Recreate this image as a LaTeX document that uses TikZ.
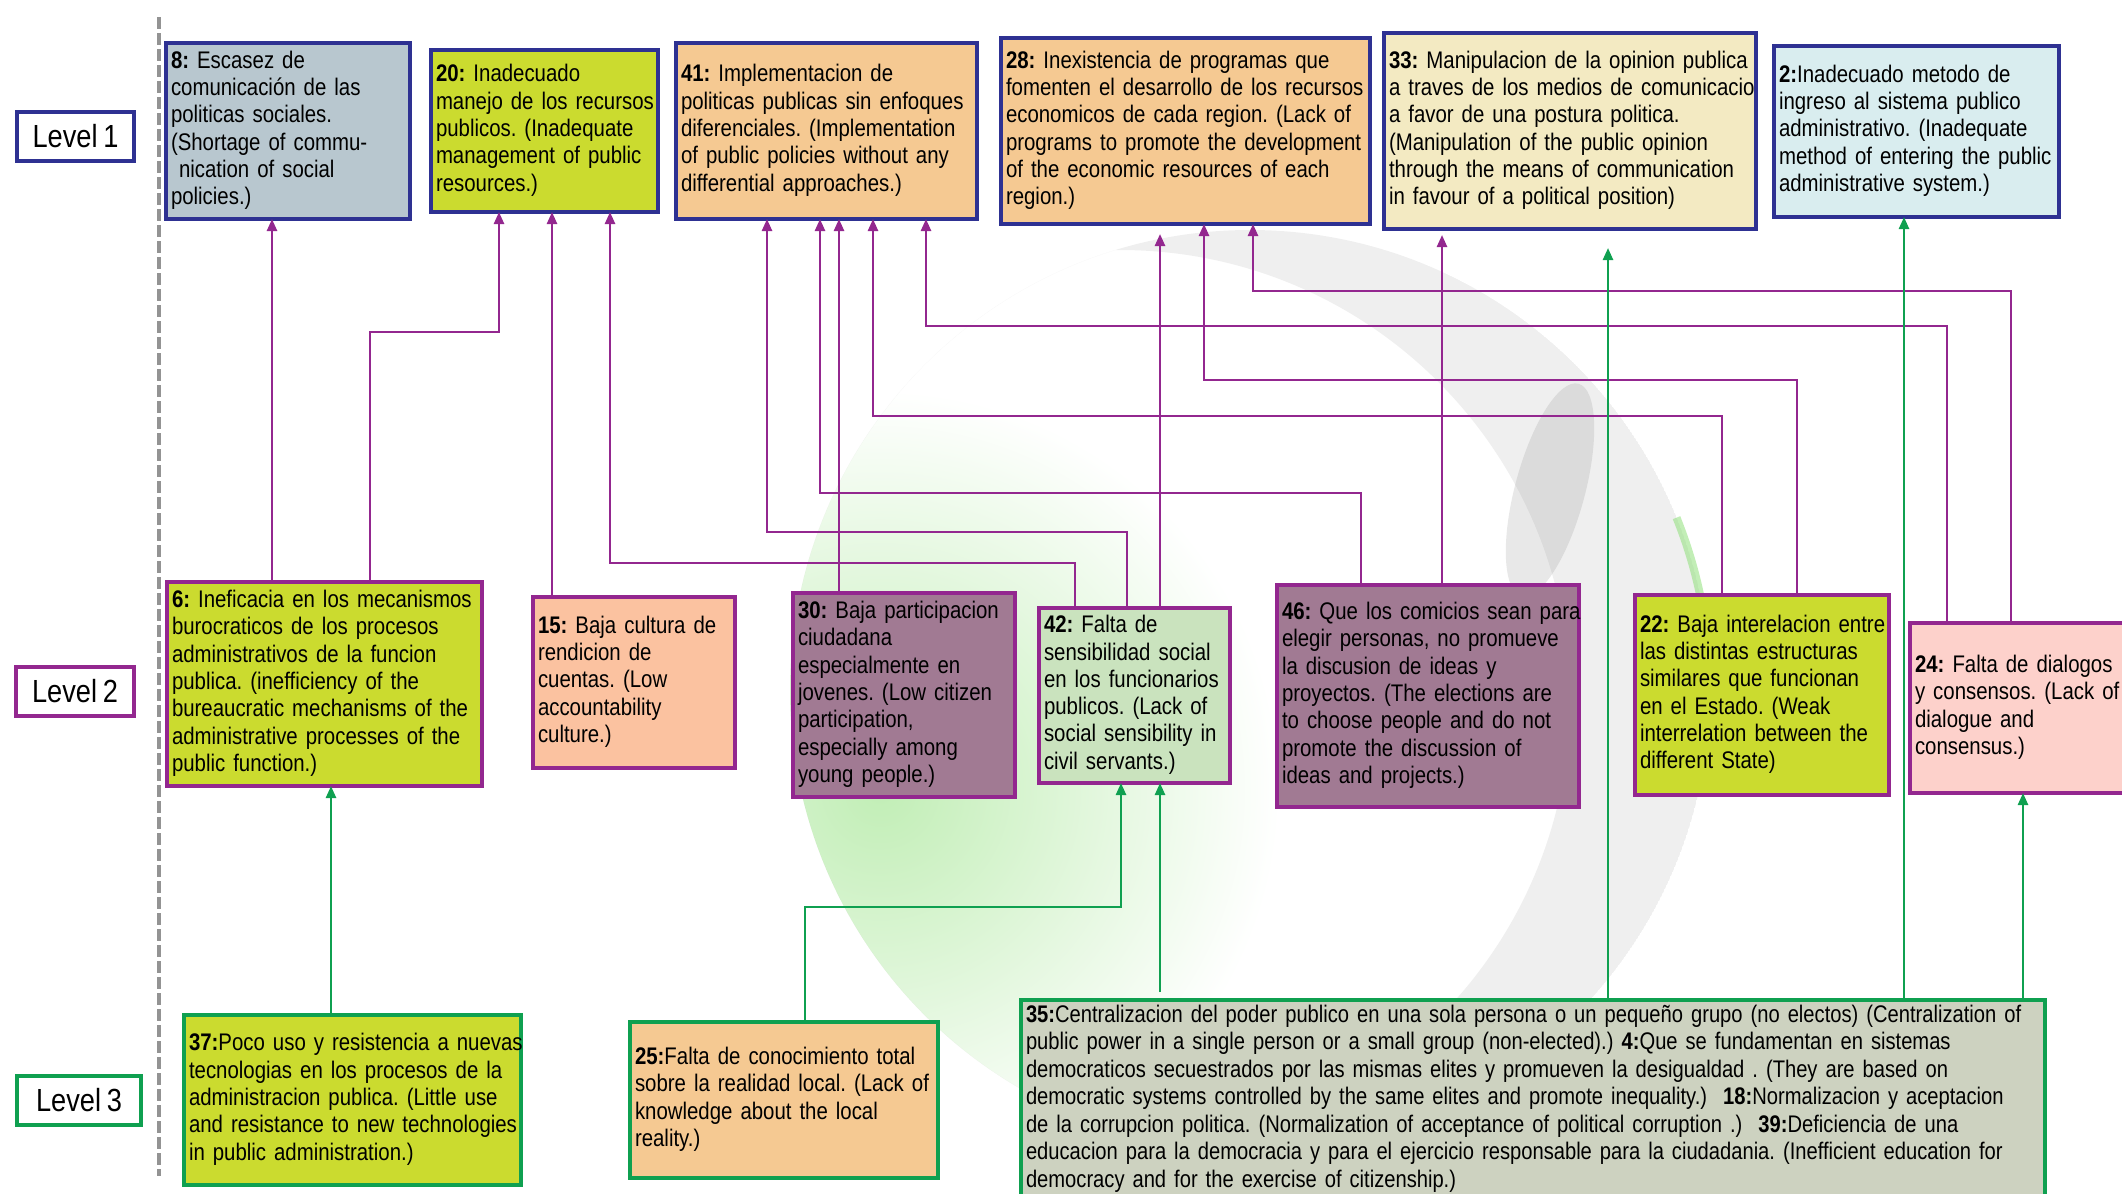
\documentclass[tikz,border=0pt]{standalone}
\usepackage{fontspec}
\setmainfont{Liberation Sans}[FakeStretch=0.85, WordSpace=0.75]
\newfontfamily\tightfont{Liberation Sans}[FakeStretch=0.84, WordSpace=0.75]
\usetikzlibrary{arrows.meta}

% frame colours of the three levels and connector colours
\definecolor{lvlblue}{HTML}{2E3192}
\definecolor{lvlpurple}{HTML}{93278F}
\definecolor{lvlgreen}{HTML}{0FA050}
% box fills
\definecolor{fgrey}{HTML}{B8C7CF}
\definecolor{flime}{HTML}{CBDB2F}
\definecolor{forange}{HTML}{F5C992}
\definecolor{fcream}{HTML}{F3EAC2}
\definecolor{fcyan}{HTML}{D9EDEF}
\definecolor{fpeach}{HTML}{FBC2A0}
\definecolor{fmauve}{HTML}{A17A93}
\definecolor{fmint}{HTML}{CAE3BE}
\definecolor{fpink}{HTML}{FDD1CB}
\definecolor{fsage}{HTML}{CDD2C0}
\definecolor{globegreen}{HTML}{8FE07A}

% a block of lines that never re-wraps
\newcommand\rows[1]{\begin{tabular}{@{}l@{}}#1\end{tabular}}

\begin{document}
\frenchspacing
\begin{tikzpicture}[x=0.5pt, y=-0.5pt,
  box/.style={rectangle, draw, line width=1.6pt, anchor=north west,
    inner xsep=2.5pt, inner ysep=1pt, outer sep=0pt, align=left,
    font=\fontsize{12}{13.65}\selectfont},
  bluebox/.style={box, draw=lvlblue},
  purplebox/.style={box, draw=lvlpurple},
  greenbox/.style={box, draw=lvlgreen},
  lvl/.style={rectangle, draw, line width=1.6pt, anchor=north west, fill=white,
    inner sep=0pt, outer sep=0pt, align=center,
    font=\fontsize{16}{18}\selectfont},
  parr/.style={draw=lvlpurple, line width=1.2pt, -{Triangle[length=6pt,width=5pt]}},
  garr/.style={draw=lvlgreen, line width=1.2pt, -{Triangle[length=6pt,width=5pt]}},
  sepline/.style={draw=gray!85, line width=1.8pt, dash pattern=on 6pt off 2pt}
]
\useasboundingbox (0,0) rectangle (2122,1194);

% ---------- faint globe in the background ----------
\begin{scope}
  \clip (1250,690) circle[radius=460];
  % soft green haze on the lower left side of the sphere
  \shade[inner color=globegreen!55, outer color=white] (880,790) circle[radius=400];
  % grey shadow band on the right side, with its darker core
  \fill[gray, opacity=0.13, even odd rule]
    (1250,690) circle[radius=460] (1120,700) circle[radius=450];
  \fill[gray, opacity=0.18, rotate around={-15:(1550,490)}]
    (1550,490) ellipse[x radius=35, y radius=110];
\end{scope}
\draw[globegreen, line width=4pt, opacity=0.55]
  (1250,690) ++(-22:460) arc[start angle=-22, end angle=-5, radius=460];

% ---------- level separator ----------
\coordinate (septop) at (159,17);
\coordinate (sepbot) at (159,1176);
\draw[sepline] (septop) -- (sepbot);

% ---------- level labels ----------
\node[lvl, draw=lvlblue,   minimum width=58.5pt, minimum height=24.5pt] (lev1) at (17,112)  {Level 1};
\node[lvl, draw=lvlpurple, minimum width=59pt,   minimum height=24.5pt] (lev2) at (16,667)  {Level 2};
\node[lvl, draw=lvlgreen,  minimum width=62pt,   minimum height=24.5pt] (lev3) at (17,1076) {Level 3};

% ---------- level 1 ----------
\node[bluebox, fill=fgrey, minimum width=122pt, minimum height=88pt, text width=117pt] (b8) at (166,43)
  {\rows{\textbf{8:} Escasez de\\comunicación de las\\politicas sociales.\\(Shortage of commu-\\\ nication of social\\policies.)}};
\node[bluebox, fill=flime, minimum width=113.5pt, minimum height=81pt, text width=108.5pt] (b20) at (431,50)
  {\rows{\textbf{20:} Inadecuado\\manejo de los recursos\\publicos. (Inadequate\\management of public\\resources.)}};
\node[bluebox, fill=forange, minimum width=150.5pt, minimum height=88pt, text width=145.5pt] (b41) at (676,43)
  {\rows{\textbf{41:} Implementacion de\\politicas publicas sin enfoques\\diferenciales. (Implementation\\of public policies without any\\differential approaches.)}};
\node[bluebox, fill=forange, minimum width=184.5pt, minimum height=93pt, text width=179.5pt] (b28) at (1001,38)
  {\rows{\textbf{28:} Inexistencia de programas que\\fomenten el desarrollo de los recursos\\economicos de cada region. (Lack of\\programs to promote the development\\of the economic resources of each\\region.)}};
\node[bluebox, fill=fcream, minimum width=186pt, minimum height=98pt, text width=181pt] (b33) at (1384,33)
  {\rows{\textbf{33:} Manipulacion de la opinion publica\\a traves de los medios de comunicacio\\a favor de una postura politica.\\(Manipulation of the public opinion\\through the means of communication\\in favour of a political position)}};
\node[bluebox, fill=fcyan, minimum width=142.5pt, minimum height=85.5pt, text width=137.5pt] (b2) at (1774,46)
  {\rows{\textbf{2:}Inadecuado metodo de\\ingreso al sistema publico\\administrativo. (Inadequate\\method of entering the public\\administrative system.)}};

% ---------- level 2 ----------
\node[purplebox, fill=flime, minimum width=157.5pt, minimum height=102pt, text width=152.5pt] (b6) at (167,582)
  {\rows{\textbf{6:} Ineficacia en los mecanismos\\burocraticos de los procesos\\administrativos de la funcion\\publica. (inefficiency of the\\bureaucratic mechanisms of the\\administrative processes of the\\public function.)}};
\node[purplebox, fill=fpeach, minimum width=101pt, minimum height=85.5pt, text width=96pt] (b15) at (533,597)
  {\rows{\textbf{15:} Baja cultura de\\rendicion de\\cuentas. (Low\\accountability\\culture.)}};
\node[purplebox, fill=fmauve, minimum width=111pt, minimum height=102pt, text width=106pt] (b30) at (793,593)
  {\rows{\textbf{30:} Baja participacion\\ciudadana\\especialmente en\\jovenes. (Low citizen\\participation,\\especially among\\young people.)}};
\node[purplebox, fill=fmint, minimum width=95.5pt, minimum height=87.5pt, text width=90.5pt] (b42) at (1039,608)
  {\rows{\textbf{42:} Falta de\\sensibilidad social\\en los funcionarios\\publicos. (Lack of\\social sensibility in\\civil servants.)}};
\node[purplebox, fill=fmauve, minimum width=151pt, minimum height=111pt, text width=146pt] (b46) at (1277,585)
  {\rows{\textbf{46:} Que los comicios sean para\\elegir personas, no promueve\\la discusion de ideas y\\proyectos. (The elections are\\to choose people and do not\\promote the discussion of\\ideas and projects.)}};
\node[purplebox, fill=flime, minimum width=127pt, minimum height=100pt, text width=122pt] (b22) at (1635,595)
  {\rows{\textbf{22:} Baja interelacion entre\\las distintas estructuras\\similares que funcionan\\en el Estado. (Weak\\interrelation between the\\different State)}};
\node[purplebox, fill=fpink, minimum width=111pt, minimum height=85pt, text width=106pt] (b24) at (1910,623)
  {\rows{\textbf{24:} Falta de dialogos\\y consensos. (Lack of\\dialogue and\\consensus.)}};

% ---------- level 3 ----------
\node[greenbox, fill=flime, minimum width=168.5pt, minimum height=85pt, text width=163.5pt] (b37) at (184,1015)
  {\rows{\textbf{37:}Poco uso y resistencia a nuevas\\tecnologias en los procesos de la\\administracion publica. (Little use\\and resistance to new technologies\\in public administration.)}};
\node[greenbox, fill=forange, minimum width=154pt, minimum height=78pt, text width=149pt] (b25) at (630,1022)
  {\rows{\textbf{25:}Falta de conocimiento total\\sobre la realidad local. (Lack of\\knowledge about the local\\reality.)}};
\node[greenbox, fill=fsage, minimum width=512pt, minimum height=99pt, text width=507pt,
      font=\tightfont\fontsize{12}{13.75}\selectfont] (b35) at (1021,1000)
  {\rows{\textbf{35:}Centralizacion del poder publico en una sola persona o un pequeño grupo (no electos) (Centralization of\\
  public power in a single person or a small group (non-elected).) \textbf{4:}Que se fundamentan en sistemas\\
  democraticos secuestrados por las mismas elites y promueven la desigualdad . (They are based on\\
  democratic systems controlled by the same elites and promote inequality.)\ \ \textbf{18:}Normalizacion y aceptacion\\
  de la corrupcion politica. (Normalization of acceptance of political corruption .)\ \ \textbf{39:}Deficiencia de una\\
  educacion para la democracia y para el ejercicio responsable para la ciudadania. (Inefficient education for\\
  democracy and for the exercise of citizenship.)}};

% ---------- connector columns and bends ----------
\coordinate (k272) at (272,0);
\coordinate (s6to20) at (370,0);   \coordinate (w6to20) at (499,332);
\coordinate (k552) at (552,0);
\coordinate (s42to20) at (1075,0); \coordinate (w42to20) at (610,563);
\coordinate (s42to41) at (1127,0); \coordinate (w42to41) at (767,532);
\coordinate (s46to41) at (1361,0); \coordinate (w46to41) at (820,493);
\coordinate (k839) at (839,0);
\coordinate (s22to41) at (1722,0); \coordinate (w22to41) at (873,416);
\coordinate (s24to41) at (1947,0); \coordinate (w24to41) at (926,326);
\coordinate (k1160) at (1160,0);
\coordinate (s22to28) at (1797,0); \coordinate (w22to28) at (1204,380);
\coordinate (s24to28) at (2011,0); \coordinate (w24to28) at (1253,291);
\coordinate (k1442) at (1442,0);
\coordinate (k331) at (331,0);
\coordinate (s25to42) at (805,0);  \coordinate (w25to42) at (1121,907);
\coordinate (k1608) at (1608,0);
\coordinate (k1904) at (1904,0);
\coordinate (k2023) at (2023,0);

% ---------- level 2 -> level 1 ----------
\draw[parr] (b6.north -| k272) -- (b8.south -| k272);
\draw[parr] (b6.north -| s6to20) |- (w6to20) -- (b20.south -| w6to20);
\draw[parr] (b15.north -| k552) -- (b20.south -| k552);
\draw[parr] (b42.north -| s42to20) |- (w42to20) -- (b20.south -| w42to20);
\draw[parr] (b42.north -| s42to41) |- (w42to41) -- (b41.south -| w42to41);
\draw[parr] (b46.north -| s46to41) |- (w46to41) -- (b41.south -| w46to41);
\draw[parr] (b30.north -| k839) -- (b41.south -| k839);
\draw[parr] (b22.north -| s22to41) |- (w22to41) -- (b41.south -| w22to41);
\draw[parr] (b24.north -| s24to41) |- (w24to41) -- (b41.south -| w24to41);
\draw[parr, shorten >=5pt] (b42.north -| k1160) -- (b28.south -| k1160);
\draw[parr] (b22.north -| s22to28) |- (w22to28) -- (b28.south -| w22to28);
\draw[parr] (b24.north -| s24to28) |- (w24to28) -- (b28.south -| w24to28);
\draw[parr, shorten >=3pt] (b46.north -| k1442) -- (b33.south -| k1442);

% ---------- level 3 -> upper levels ----------
\draw[garr] (b37.north -| k331) -- (b6.south -| k331);
\draw[garr] (b25.north -| s25to42) |- (w25to42) -- (b42.south -| w25to42);
\draw[garr, shorten <=4pt] (b35.north -| k1160) -- (b42.south -| k1160);
\draw[garr, shorten >=9.5pt] (b35.north -| k1608) -- (b33.south -| k1608);
\draw[garr] (b35.north -| k1904) -- (b2.south -| k1904);
\draw[garr] (b35.north -| k2023) -- (b24.south -| k2023);
\end{tikzpicture}
\end{document}
